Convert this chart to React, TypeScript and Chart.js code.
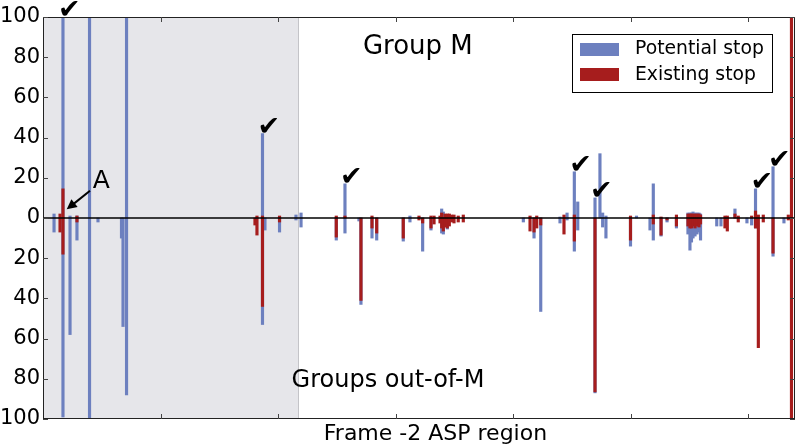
import { useEffect, useRef } from 'react';
import { Chart, registerables } from 'chart.js';

Chart.register(...registerables);

// Position along the frame -2 ASP region (arbitrary units)
const positions = [
  9.4, 14.5, 17.0, 23.0, 28.9, 39.6, 46.8, 66.8, 68.1, 71.1,
  180.4, 182.1, 186.8, 188.9, 201.3, 215.3, 219.6, 249.6, 257.0, 268.9,
  270.6, 280.0, 284.0, 306.6, 312.3, 320.0, 323.1, 330.2, 332.8, 337.9,
  339.3, 340.7, 342.1, 344.1, 345.8, 347.8, 349.8, 353.4, 357.7, 408.8,
  414.5, 417.9, 420.2, 423.6, 440.0, 443.4, 446.0, 452.2, 455.1, 469.8,
  474.0, 476.3, 479.1, 500.0, 505.1, 516.6, 519.4, 526.0, 531.1, 539.1,
  548.9, 550.6, 551.9, 553.2, 554.9, 556.6, 558.3, 559.6, 573.4, 577.0,
  580.4, 582.4, 588.9, 591.7, 599.1, 603.1, 606.4, 608.8, 613.0, 621.3,
  630.6, 634.3, 637.0,
];

// Group M (upwards)
const potentialUp = [
  2, 0, 100, 1, 1, 100, 0, 0, 0, 100,
  0, 0, 42, 0, 0, 1.5, 2.5, 0, 17, 0,
  0, 0, 0, 0, 1, 0, 0, 0, 0, 0,
  4.5, 3, 0, 0, 0, 0, 0, 0, 0, 0,
  0, 0, 0, 0, 0.5, 0, 2.5, 23, 8, 10,
  32, 2.5, 1, 0, 1, 0, 17, 0, 0, 0,
  2.5, 2.5, 2.5, 3, 2.5, 2.5, 2.5, 2, 0, 0,
  0, 0, 4.5, 0, 0, 0, 14.5, 0, 0, 25.5,
  0, 0, 0,
];
const existingUp = [
  0, 2, 14.5, 0, 1, 0, 0, 0, 0, 0,
  0, 1, 1, 0, 1, 0, 0, 1, 1, 0,
  0, 1, 0, 0, 0, 1, 0, 1, 1, 1,
  2.5, 0, 2, 2, 2, 1.5, 1.5, 1, 1.5, 0,
  1, 0, 1, 0, 0, 1.5, 0, 1.5, 0, 0,
  0, 0, 0, 1, 0, 0, 1.5, 0.5, 0, 1.5,
  2, 2, 2, 2, 2, 2, 2, 1.5, 0, 0,
  1, 1, 2, 1, 0, 1, 3.5, 1.5, 1.5, 0,
  0, 1.5, 100,
];

// Groups out-of-M (downwards)
const potentialDown = [
  7, 0, 99, 58, 11, 100, 2, 10, 54, 88,
  0, 0, 53, 6, 7, 1, 4.5, 11, 7.5, 1.5,
  43, 10, 11, 11.5, 2, 0, 16.5, 6, 0, 0,
  7.5, 8, 0, 5.5, 0, 0, 0, 0, 0, 2,
  0, 10, 0, 46.5, 2.5, 0, 1, 16.5, 6, 87,
  0, 4.5, 10, 14, 0, 6, 11, 9, 2, 5,
  8, 16, 12, 10, 9, 8, 7, 11, 4, 4,
  0, 0, 0, 0, 2.5, 3.5, 5, 0, 0, 19,
  2.5, 0, 0,
];
const existingDown = [
  0, 7, 18, 0, 2, 0, 0, 0, 0, 0,
  3.5, 8.5, 44, 0, 2, 0, 0, 9.5, 0, 0,
  41, 5, 7.5, 10, 0, 1, 2.5, 5, 3, 2.5,
  5, 6.5, 4.5, 5, 4, 2, 2.5, 2, 2, 0,
  6.5, 7, 5, 3.5, 0, 8, 0, 11.5, 0, 86.5,
  0, 0, 0, 11, 0, 0, 3, 8.5, 1, 4,
  4, 5, 5, 4, 5, 4, 4.5, 3, 0, 0,
  5, 6.5, 0, 2, 0, 0, 5, 64.5, 2, 17.5,
  0, 1, 100,
];

const checkPositions = [17.0, 186.8, 257.0, 452.2, 469.8, 606.4, 621.3];
const yTickValues = [-100, -80, -60, -40, -20, 0, 20, 40, 60, 80, 100];
const xTickValues = [100, 200, 300, 400, 500, 600];
const shadedEnd = 217;
const xTitle = 'Frame -2 ASP region';

const BLUE = '#6d80bf';
const RED = '#a61d1d';
const FONT = "'DejaVu Sans', sans-serif";

function buildSeries(up: number[], down: number[]) {
  const pts: { x: number; y: number }[] = [];
  positions.forEach((p, i) => {
    if (up[i] > 0) pts.push({ x: p, y: up[i] });
    if (down[i] > 0) pts.push({ x: p, y: -down[i] });
  });
  return pts;
}

const decorPlugin = {
  id: 'decor',
  beforeDatasetsDraw(chart: any) {
    const { ctx, chartArea, scales } = chart;
    const x = scales.x;
    const xe = x.getPixelForValue(shadedEnd);
    ctx.save();
    ctx.fillStyle = '#e6e6ea';
    ctx.fillRect(chartArea.left, chartArea.top, xe - chartArea.left, chartArea.bottom - chartArea.top);
    ctx.strokeStyle = '#c4c4c8';
    ctx.lineWidth = 1;
    ctx.beginPath();
    ctx.moveTo(Math.round(xe) + 0.5, chartArea.top);
    ctx.lineTo(Math.round(xe) + 0.5, chartArea.bottom);
    ctx.stroke();
    ctx.restore();
  },
  afterDatasetsDraw(chart: any) {
    const { ctx, chartArea, scales } = chart;
    const x = scales.x;
    const y = scales.y;
    ctx.save();
    // zero line
    const y0 = y.getPixelForValue(0);
    ctx.strokeStyle = '#000';
    ctx.lineWidth = 1.5;
    ctx.beginPath();
    ctx.moveTo(chartArea.left, y0);
    ctx.lineTo(chartArea.right, y0);
    ctx.stroke();
    // frame
    ctx.lineWidth = 1;
    ctx.strokeStyle = '#222';
    ctx.strokeRect(chartArea.left + 0.5, chartArea.top + 0.5, chartArea.right - chartArea.left - 1, chartArea.bottom - chartArea.top - 1);
    // inward ticks
    ctx.strokeStyle = '#444';
    ctx.beginPath();
    yTickValues.forEach((v) => {
      const py = Math.round(y.getPixelForValue(v)) + 0.5;
      ctx.moveTo(chartArea.left, py);
      ctx.lineTo(chartArea.left + 5, py);
      ctx.moveTo(chartArea.right, py);
      ctx.lineTo(chartArea.right - 5, py);
    });
    xTickValues.forEach((v) => {
      const px = Math.round(x.getPixelForValue(v)) + 0.5;
      ctx.moveTo(px, chartArea.top);
      ctx.lineTo(px, chartArea.top + 5);
      ctx.moveTo(px, chartArea.bottom);
      ctx.lineTo(px, chartArea.bottom - 5);
    });
    ctx.stroke();

    // check marks
    ctx.fillStyle = '#000';
    ctx.font = `27px ${FONT}`;
    ctx.textAlign = 'left';
    ctx.textBaseline = 'alphabetic';
    checkPositions.forEach((p) => {
      const i = positions.indexOf(p);
      const px = x.getPixelForValue(p);
      const py = y.getPixelForValue(potentialUp[i]);
      ctx.fillText('\u2714', px - 5, py + 1);
    });

    // Annotation A with arrow
    const tx = x.getPixelForValue(40);
    const ty = y.getPixelForValue(13.6);
    const hx = x.getPixelForValue(20.2);
    const hy = y.getPixelForValue(4.3);
    const ang = Math.atan2(hy - ty, hx - tx);
    ctx.strokeStyle = '#000';
    ctx.lineWidth = 2;
    ctx.beginPath();
    ctx.moveTo(tx, ty);
    ctx.lineTo(hx - 6 * Math.cos(ang), hy - 6 * Math.sin(ang));
    ctx.stroke();
    ctx.beginPath();
    ctx.moveTo(hx, hy);
    ctx.lineTo(hx - 10 * Math.cos(ang) + 5 * Math.sin(ang), hy - 10 * Math.sin(ang) - 5 * Math.cos(ang));
    ctx.lineTo(hx - 10 * Math.cos(ang) - 5 * Math.sin(ang), hy - 10 * Math.sin(ang) + 5 * Math.cos(ang));
    ctx.closePath();
    ctx.fill();
    ctx.font = `25px ${FONT}`;
    ctx.fillText('A', x.getPixelForValue(42.3), y.getPixelForValue(14.9));

    // group labels
    ctx.textAlign = 'center';
    ctx.textBaseline = 'middle';
    ctx.font = `26px ${FONT}`;
    ctx.fillText('Group M', x.getPixelForValue(319), y.getPixelForValue(85));
    ctx.font = `24px ${FONT}`;
    ctx.fillText('Groups out-of-M', x.getPixelForValue(293.6), y.getPixelForValue(-81));

    // x axis title
    ctx.font = `22px ${FONT}`;
    ctx.fillText(xTitle, x.getPixelForValue(334), chartArea.bottom + 15);

    // legend
    const lx = 572, ly = 34, lw = 200, lh = 58;
    ctx.fillStyle = '#fff';
    ctx.fillRect(lx, ly, lw, lh);
    ctx.strokeStyle = '#000';
    ctx.lineWidth = 1;
    ctx.strokeRect(lx + 0.5, ly + 0.5, lw, lh);
    ctx.fillStyle = BLUE;
    ctx.fillRect(lx + 8, ly + 9, 39, 13);
    ctx.fillStyle = RED;
    ctx.fillRect(lx + 8, ly + 34, 39, 13);
    ctx.fillStyle = '#000';
    ctx.font = `18.8px ${FONT}`;
    ctx.textAlign = 'left';
    ctx.fillText('Potential stop', lx + 63, ly + 15.5);
    ctx.fillText('Existing stop', lx + 63, ly + 41);
    ctx.restore();
  },
};

export default function App() {
  const ref = useRef<HTMLCanvasElement | null>(null);
  useEffect(() => {
    document.body.style.margin = '0';
    if (!ref.current) return;
    const chart = new Chart(ref.current, {
      type: 'bar',
      data: {
        datasets: [
          {
            label: 'Potential stop',
            data: buildSeries(potentialUp, potentialDown),
            backgroundColor: BLUE,
            borderWidth: 0,
            barThickness: 2.5,
            order: 2,
          },
          {
            label: 'Existing stop',
            data: buildSeries(existingUp, existingDown),
            backgroundColor: RED,
            borderWidth: 0,
            barThickness: 2.5,
            order: 1,
          },
        ],
      },
      options: {
        animation: false,
        responsive: false,
        layout: { padding: { top: 17, right: 1, left: 0, bottom: 0 } },
        plugins: { legend: { display: false }, tooltip: { enabled: false } },
        scales: {
          x: {
            type: 'linear',
            stacked: true,
            offset: false,
            min: 0,
            max: 640,
            grid: { display: false, drawTicks: false },
            border: { display: false },
            ticks: { display: false },
            title: { display: false, text: xTitle },
            afterFit(scale: any) {
              scale.height = 26;
            },
          },
          y: {
            type: 'linear',
            stacked: false,
            min: -100,
            max: 100,
            grid: { display: false, drawTicks: false },
            border: { display: false },
            ticks: {
              stepSize: 20,
              color: '#000',
              padding: 3,
              font: { family: FONT, size: 21 },
              callback: (v: any) => String(Math.abs(Number(v))),
            },
            afterFit(scale: any) {
              scale.width = 43;
            },
          },
        },
      },
      plugins: [decorPlugin],
    });
    return () => chart.destroy();
  }, []);
  return (
    <div style={{ width: 796, height: 445 }}>
      <canvas ref={ref} width={796} height={445} style={{ display: 'block' }} />
    </div>
  );
}
